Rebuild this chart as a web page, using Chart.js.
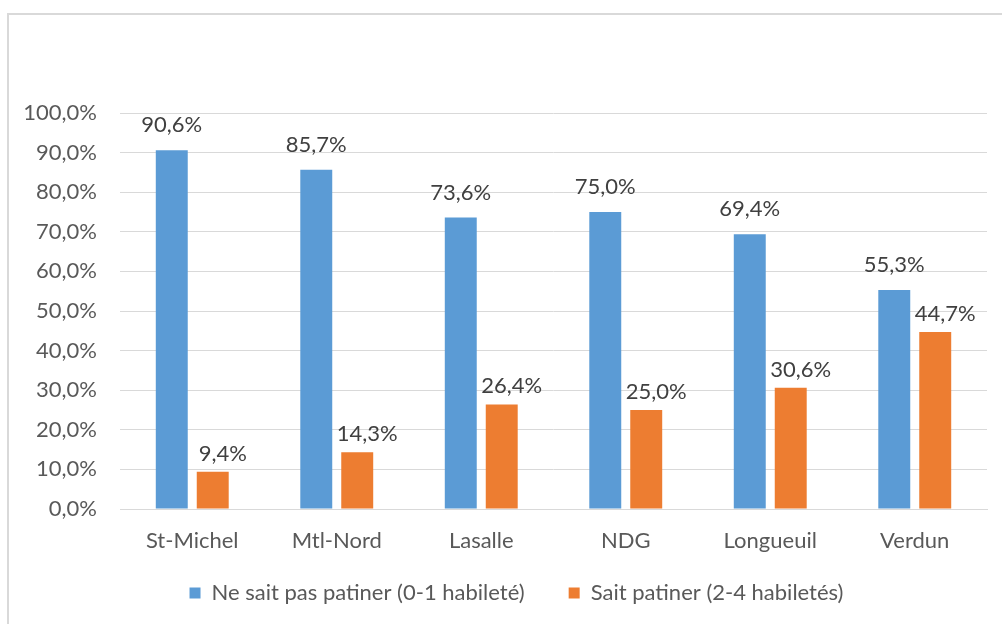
<!DOCTYPE html>
<html>
<head>
<meta charset="utf-8">
<script src="https://cdn.jsdelivr.net/npm/chart.js@4"></script>
<style>
  html, body { margin: 0; padding: 0; background: #fff; }
  #wrap { position: relative; width: 1002px; height: 624px; overflow: hidden; }
  #frame { position: absolute; left: 7px; top: 13px; width: 1100px; height: 700px; border: 2px solid #d9d9d9; box-sizing: border-box; }
  #c { position: absolute; left: 0; top: 0; }
</style>
</head>
<body>
<div id="wrap">
  <div id="frame"></div>
  <canvas id="c" width="1002" height="624"></canvas>
</div>
<script>
const categories = ["St-Michel", "Mtl-Nord", "Lasalle", "NDG", "Longueuil", "Verdun"];
const seriesNames = ["Ne sait pas patiner (0-1 habileté)", "Sait patiner (2-4 habiletés)"];
const neSaitPas = [90.6, 85.7, 73.6, 75.0, 69.4, 55.3];
const saitPatiner = [9.4, 14.3, 26.4, 25.0, 30.6, 44.7];

const FONT = "Lato, 'Open Sans', sans-serif";
const FS = 22;
const fmt = v => v.toFixed(1).replace('.', ',') + '%';
// label offsets per dataset: [dx, gap above bar]
const labelOffsets = [[0, 18], [10, 11]];

const noLabelClip = {
  id: 'noLabelClip',
  beforeDraw(chart) {
    Object.values(chart.scales).forEach(s => { s._computeLabelArea = () => undefined; });
  }
};

const dataLabels = {
  id: 'dataLabels',
  afterDatasetsDraw(chart) {
    const ctx = chart.ctx;
    ctx.save();
    ctx.font = FS + 'px ' + FONT;
    ctx.fillStyle = '#404040';
    ctx.textAlign = 'center';
    ctx.textBaseline = 'alphabetic';
    chart.data.datasets.forEach((ds, i) => {
      const [dx, gap] = labelOffsets[i];
      chart.getDatasetMeta(i).data.forEach((bar, j) => {
        ctx.fillText(fmt(ds.data[j]), bar.x + dx, bar.y - gap);
      });
    });
    ctx.restore();
  }
};

new Chart(document.getElementById('c'), {
  type: 'bar',
  data: {
    labels: categories,
    datasets: [
      { label: seriesNames[0], data: neSaitPas, backgroundColor: '#5B9BD5', categoryPercentage: 0.567, barPercentage: 0.78 },
      { label: seriesNames[1], data: saitPatiner, backgroundColor: '#ED7D31', categoryPercentage: 0.567, barPercentage: 0.78 }
    ]
  },
  options: {
    responsive: false,
    animation: false,
    layout: { padding: { left: 46, right: 15, top: 113, bottom: 10 } },
    plugins: {
      tooltip: { enabled: false },
      legend: {
        position: 'bottom',
        labels: {
          boxWidth: 11, boxHeight: 11, padding: 44,
          color: '#595959',
          font: { family: FONT, size: FS }
        }
      }
    },
    scales: {
      x: {
        grid: { display: false, drawTicks: false },
        border: { color: '#d9d9d9', width: 1 },
        ticks: { color: '#595959', font: { family: FONT, size: FS }, padding: 19 },
        afterFit(s) { s.height = 29; }
      },
      y: {
        min: 0, max: 100,
        grid: { color: '#d9d9d9', drawTicks: false },
        border: { display: false },
        ticks: { stepSize: 10, color: '#595959', font: { family: FONT, size: FS }, padding: 23, callback: v => fmt(v) },
        afterFit(s) { s.width = 74; }
      }
    }
  },
  plugins: [noLabelClip, dataLabels]
});
</script>
</body>
</html>
